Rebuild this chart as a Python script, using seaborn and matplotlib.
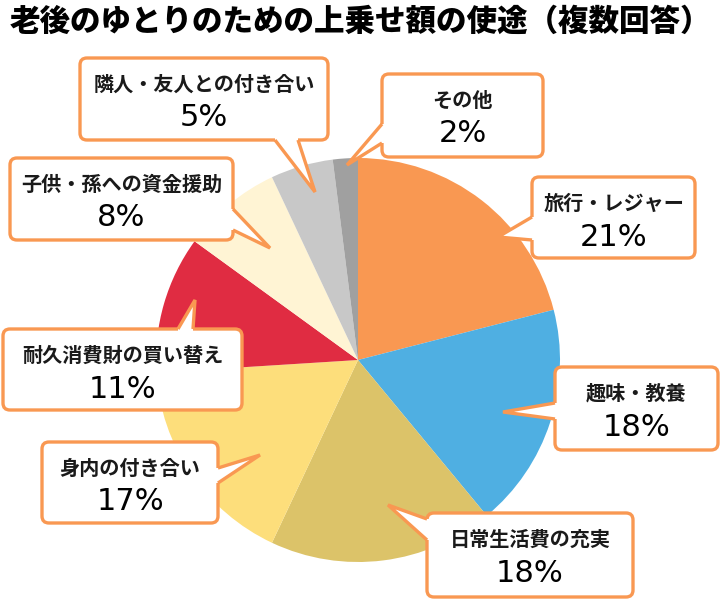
import numpy as np
import matplotlib
matplotlib.use('Agg')
import matplotlib.pyplot as plt
from matplotlib.patches import FancyBboxPatch, Polygon
import seaborn as sns

sns.set_style('white')
plt.rcParams['font.family'] = ['Noto Sans CJK JP', 'DejaVu Sans']

# data
categories = ['旅行・レジャー', '趣味・教養', '日常生活費の充実', '身内の付き合い',
              '耐久消費財の買い替え', '子供・孫への資金援助', '隣人・友人との付き合い', 'その他']
values = [21, 18, 18, 17, 11, 8, 5, 2]
colors = ['#F99852', '#4FAFE2', '#DCC369', '#FDDE7B',
          '#E02C42', '#FFF4D4', '#C8C8C8', '#A0A0A0']
title = '老後のゆとりのための上乗せ額の使途（複数回答）'

# callout layout in pixels (x0, y0, x1, y1), tail side, base a..b, tip
boxes = [
    ((532, 177, 695, 258), 'left', (217, 240), (498, 237)),
    ((555, 367, 718, 450), 'left', (403, 419), (503, 412)),
    ((427, 513, 633, 597), 'left', (519, 540), (388, 505)),
    ((42, 442, 218, 523), 'right', (468, 483), (260, 455)),
    ((3, 329, 242, 410), 'top', (178, 193), (195, 300)),
    ((10, 158, 233, 240), 'right', (209, 230), (270, 248)),
    ((80, 58, 328, 140), 'bottom', (275, 298), (315, 192)),
    ((382, 74, 543, 157), 'left', (124, 143), (347, 165)),
]

W, H = 720, 610
edge = '#F99852'


def Y(py):
    return H - py


fig = plt.figure(figsize=(7.2, 6.1), dpi=100)
ax = fig.add_axes([0, 0, 1, 1])

ax.pie(values, colors=colors, startangle=90, counterclock=False,
       center=(358, Y(360)), radius=202, wedgeprops=dict(linewidth=0))
ax.set_xlim(0, W)
ax.set_ylim(0, H)
ax.set_aspect('equal')
ax.axis('off')

for (x0, y0, x1, y1), side, (a, b), (tx, ty) in boxes:
    box = FancyBboxPatch((x0, Y(y1)), x1 - x0, y1 - y0,
                         boxstyle='round,pad=0,rounding_size=7',
                         facecolor='white', edgecolor=edge, linewidth=2.4, zorder=4)
    ax.add_patch(box)
    if side == 'left':
        p1, p2 = (x0, a), (x0, b)
        q1, q2 = (x0 + 4, a), (x0 + 4, b)
    elif side == 'right':
        p1, p2 = (x1, a), (x1, b)
        q1, q2 = (x1 - 4, a), (x1 - 4, b)
    elif side == 'top':
        p1, p2 = (a, y0), (b, y0)
        q1, q2 = (a, y0 + 4), (b, y0 + 4)
    else:
        p1, p2 = (a, y1), (b, y1)
        q1, q2 = (a, y1 - 4), (b, y1 - 4)
    fill = Polygon([(q1[0], Y(q1[1])), (p1[0], Y(p1[1])), (tx, Y(ty)),
                    (p2[0], Y(p2[1])), (q2[0], Y(q2[1]))],
                   closed=True, facecolor='white', edgecolor='none', zorder=5)
    ax.add_patch(fill)
    ax.plot([p1[0], tx, p2[0]], [Y(p1[1]), Y(ty), Y(p2[1])], color=edge,
            linewidth=2.4, solid_joinstyle='miter', solid_capstyle='butt', zorder=6)

for cat, val, ((x0, y0, x1, y1), _, _, _) in zip(categories, values, boxes):
    cx = (x0 + x1) / 2
    ax.text(cx, Y(y0 + 26), cat, ha='center', va='center', fontsize=14.5,
            fontweight='bold', color='#1a1a1a', zorder=7)
    ax.text(cx, Y(y0 + 60), f'{val}%', ha='center', va='center', fontsize=22,
            family=['DejaVu Sans'], color='black', zorder=7)

ax.text(360, Y(21), title, ha='center', va='center', fontsize=22,
        fontweight='heavy', color='black')

fig.savefig('out.png', dpi=100)
